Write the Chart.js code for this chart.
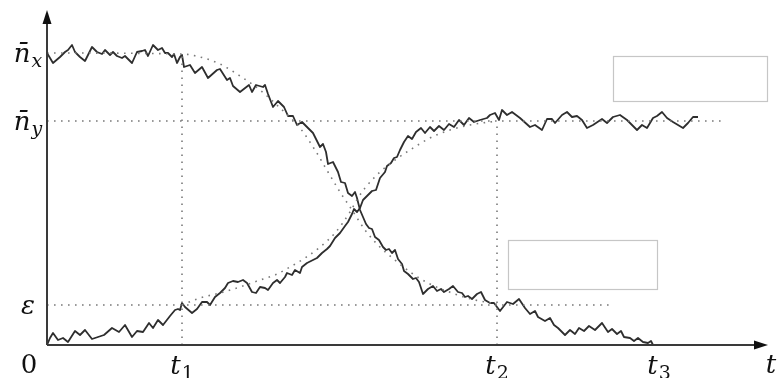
<!DOCTYPE html>
<html>
<head>
<meta charset="utf-8">
<script src="https://cdn.jsdelivr.net/npm/chart.js@4.4.1/dist/chart.umd.min.js"></script>
<style>
  html, body { margin: 0; padding: 0; background: #ffffff; }
  canvas { display: block; }
</style>
</head>
<body>
<canvas id="chart" width="779" height="378"></canvas>
<script>
// Species x: sampled trajectory, holds near its plateau then decays to zero
const xTimes = [0,6,13,18,21,25,28,33,38,45,50,55,58,63,66,70,75,78,81,85,90,95,98,101,106,111,115,118,121,125,127,130,133,135,137,143,148,155,161,170,173,180,183,186,193,202,205,209,216,218,221,226,231,237,241,246,250,255,261,266,270,273,276,279,281,286,291,294,298,301,305,308,310,313,316,319,322,325,328,332,336,339,342,345,348,351,355,357,361,366,369,372,376,381,386,390,394,397,402,406,411,415,418,421,425,430,434,438,443,447,453,460,466,472,478,483,488,491,498,503,507,511,518,523,528,532,537,542,548,555,561,565,570,574,577,583,587,591,596,601,604,606];
const xCounts = [292,282,288,293,295,300,293,288,284,298,293,291,295,290,293,289,287,289,286,282,293,294,295,289,300,295,297,292,292,288,291,282,288,290,278,280,272,278,267,275,276,265,267,259,253,260,253,260,258,260,251,238,244,238,229,229,220,223,217,212,204,198,201,193,181,183,173,163,162,152,149,153,147,135,128,121,117,116,108,105,98,95,96,92,95,86,81,74,71,66,67,63,51,56,59,54,56,53,56,59,53,52,48,49,46,51,53,45,42,42,34,43,41,46,37,31,34,28,24,27,20,17,10,15,11,17,14,19,15,22,13,16,11,14,8,7,4,7,3,2,4,0];

// Species y: sampled trajectory, grows from zero and settles at its plateau
const yTimes = [0,3,6,11,16,21,28,33,38,45,51,57,65,72,78,85,90,96,102,106,111,116,123,128,131,133,135,138,145,150,155,160,163,168,173,178,181,186,191,196,200,205,209,213,218,221,226,230,233,238,240,245,248,253,255,260,266,270,275,280,283,288,293,298,301,305,307,310,313,316,320,325,329,333,338,340,344,347,350,353,357,361,365,369,374,378,383,387,392,397,402,407,412,417,422,427,433,440,443,448,452,455,460,465,473,483,488,495,500,505,508,515,520,525,530,535,540,546,555,560,566,573,580,590,595,600,606,610,615,620,626,631,636,641,646,651];
const yCounts = [0,7,12,5,7,3,14,10,15,6,8,10,17,13,20,8,14,13,22,17,25,20,29,35,36,35,42,38,32,36,43,43,40,48,52,57,62,64,63,65,62,53,52,58,57,55,62,65,62,68,72,70,75,72,78,82,85,87,92,96,99,107,112,119,123,131,136,133,137,145,149,154,155,167,173,179,182,187,188,195,203,209,206,213,217,212,218,214,219,215,221,218,225,220,227,223,225,227,230,232,225,235,230,233,227,218,220,215,226,226,222,230,233,228,229,225,217,220,226,222,228,230,225,215,220,217,227,229,233,227,223,220,217,222,228,228];

// Deterministic (mean-field) curves for both species
const xMeanTimes  = [0,135,153,173,193,213,233,253,268,281,293,305,318,333,348,363,383,408,428,450];
const xMeanCounts = [292,291,288,281,269,255,237,217,195,173,153,135,115,98,85,73,61,51,45,41];
const yMeanTimes  = [135,153,173,193,213,228,243,258,273,288,303,311,318,325,333,348,363,383,403,423,450];
const yMeanCounts = [40,47,52,58,65,70,78,87,98,112,133,147,157,165,173,185,195,207,215,220,224];

// Marked times and levels with their labels
const timeMarks  = [135, 450, 612];
const timeLabels = ['t_1', 't_2', 't_3'];
const levelMarks  = [40, 224, 292];
const levelLabels = ['\u03b5', 'n\u0304_y', 'n\u0304_x'];
const originLabel = '0';
const timeAxisLabel = 't';

// Extents of the dotted guide lines
const nyGuideEnd  = 676;
const epsGuideEnd = 563;

// Axis ranges
const tMax = 721;
const nMax = 335;

const pts = (ts, vs) => ts.map((t, i) => ({ x: t, y: vs[i] }));

const DOT = [1.6, 5.4];
const dotted = (data) => ({
  data, borderColor: '#7a7a7a', borderWidth: 1.6, borderDash: DOT,
  pointRadius: 0, tension: 0, fill: false
});

const datasets = [
  dotted([{ x: 0, y: levelMarks[1] }, { x: nyGuideEnd, y: levelMarks[1] }]),
  dotted([{ x: 0, y: levelMarks[0] }, { x: epsGuideEnd, y: levelMarks[0] }]),
  dotted([{ x: timeMarks[0], y: 0 }, { x: timeMarks[0], y: levelMarks[2] }]),
  dotted([{ x: timeMarks[1], y: 0 }, { x: timeMarks[1], y: levelMarks[1] }]),
  Object.assign(dotted(pts(xMeanTimes, xMeanCounts)), { cubicInterpolationMode: 'monotone' }),
  Object.assign(dotted(pts(yMeanTimes, yMeanCounts)), { cubicInterpolationMode: 'monotone' }),
  { data: pts(xTimes, xCounts), borderColor: '#2e2e2e', borderWidth: 1.8, pointRadius: 0, tension: 0, fill: false },
  { data: pts(yTimes, yCounts), borderColor: '#2e2e2e', borderWidth: 1.8, pointRadius: 0, tension: 0, fill: false }
];

// Empty framed boxes placed in data coordinates
const boxes = [
  { t0: 566, t1: 720, n0: 244, n1: 289 },
  { t0: 461, t1: 610, n0: 56,  n1: 105 }
];

const FONT = '"DejaVu Serif", serif';

function drawMath(ctx, label, cx, baseline, size) {
  const parts = label.split('_');
  const main = parts[0], sub = parts[1];
  const isDigit = s => /^[0-9]+$/.test(s);
  const mainFont = (isDigit(main) ? '' : 'italic ') + size + 'px ' + FONT;
  const subSize = Math.round(size * 0.72);
  const subFont = (sub && isDigit(sub) ? '' : 'italic ') + subSize + 'px ' + FONT;
  ctx.font = mainFont;
  const wm = ctx.measureText(main).width;
  let ws = 0;
  if (sub) { ctx.font = subFont; ws = ctx.measureText(sub).width + 1; }
  const x0 = cx - (wm + ws) / 2;
  ctx.font = mainFont;
  ctx.fillText(main, x0, baseline);
  if (sub) {
    ctx.font = subFont;
    ctx.fillText(sub, x0 + wm + 1, baseline + size * 0.2);
  }
}

const decorations = {
  id: 'decorations',
  afterDatasetsDraw(chart) {
    const { ctx, scales: { x, y } } = chart;
    const X = v => x.getPixelForValue(v);
    const Y = v => y.getPixelForValue(v);
    ctx.save();

    // framed boxes
    ctx.strokeStyle = '#c6c6c6';
    ctx.lineWidth = 1.2;
    boxes.forEach(b => {
      ctx.strokeRect(Math.round(X(b.t0)) + 0.5, Math.round(Y(b.n1)) + 0.5,
                     Math.round(X(b.t1) - X(b.t0)), Math.round(Y(b.n0) - Y(b.n1)));
    });

    // axes with arrowheads
    const ox = X(0), oy = Y(0), xe = X(tMax), ye = Y(nMax);
    ctx.strokeStyle = '#3a3a3a';
    ctx.lineWidth = 2;
    ctx.beginPath();
    ctx.moveTo(ox, oy); ctx.lineTo(xe - 6, oy);
    ctx.moveTo(ox, oy); ctx.lineTo(ox, ye + 6);
    ctx.stroke();
    ctx.fillStyle = '#111111';
    ctx.beginPath();
    ctx.moveTo(xe, oy); ctx.lineTo(xe - 14, oy - 4.5); ctx.lineTo(xe - 14, oy + 4.5); ctx.closePath();
    ctx.fill();
    ctx.beginPath();
    ctx.moveTo(ox, ye); ctx.lineTo(ox - 4.5, ye + 14); ctx.lineTo(ox + 4.5, ye + 14); ctx.closePath();
    ctx.fill();

    // labels
    ctx.fillStyle = '#111111';
    ctx.textBaseline = 'alphabetic';
    ctx.textAlign = 'left';
    const size = 26;
    levelMarks.forEach((v, i) => drawMath(ctx, levelLabels[i], 28, Y(v) + 9, size));
    drawMath(ctx, originLabel, 29, oy + 28, size);
    timeMarks.forEach((t, i) => drawMath(ctx, timeLabels[i], X(t), oy + 29, size));
    drawMath(ctx, timeAxisLabel, xe + 3, oy + 28, size);
    ctx.restore();
  }
};

new Chart(document.getElementById('chart'), {
  type: 'line',
  data: { datasets },
  options: {
    responsive: false,
    animation: false,
    devicePixelRatio: 1,
    layout: { padding: { left: 47, top: 10, right: 11, bottom: 33 } },
    plugins: { legend: { display: false }, tooltip: { enabled: false } },
    scales: {
      x: { type: 'linear', min: 0, max: tMax, display: false },
      y: { type: 'linear', min: 0, max: nMax, display: false }
    },
    elements: { line: { borderCapStyle: 'butt', borderJoinStyle: 'round' } }
  },
  plugins: [decorations]
});
</script>
</body>
</html>
